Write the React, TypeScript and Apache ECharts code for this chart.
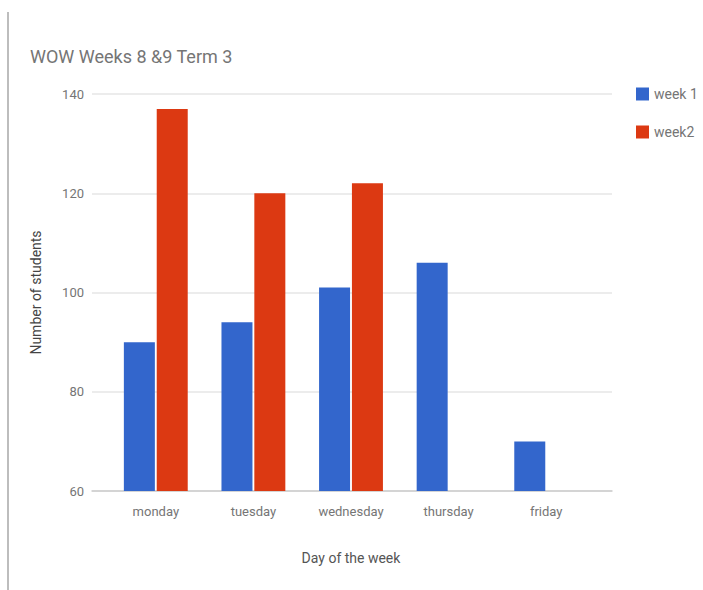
import React, { useEffect, useRef } from "react";
import * as echarts from "echarts";

const days = ["monday", "tuesday", "wednesday", "thursday", "friday"];
const week1 = [90, 94, 101, 106, 70];
const week2: (number | null)[] = [137, 120, 122, null, null];
const yMin = 60;
const yMax = 140;
const yStep = 20;

export default function App() {
  const ref = useRef<HTMLDivElement>(null);
  useEffect(() => {
    if (!ref.current) return;
    const chart = echarts.init(ref.current, undefined, { renderer: "svg" });
    const font = "Roboto, Arial, sans-serif";
    chart.setOption({
      animation: false,
      backgroundColor: "#ffffff",
      textStyle: { fontFamily: font },
      title: {
        text: "WOW Weeks 8 &9 Term 3",
        left: 25,
        top: 42,
        textStyle: { fontSize: 18, fontWeight: "normal", color: "#757575", fontFamily: font },
      },
      legend: {
        orient: "vertical",
        left: 631,
        top: 82,
        itemWidth: 13,
        itemHeight: 13,
        itemGap: 24,
        icon: "rect",
        textStyle: { fontSize: 14, color: "#757575", fontFamily: font },
        data: ["week 1", "week2"],
      },
      grid: [
        { left: 107, right: 108, top: 94, bottom: 99 },
        { left: 92, right: 91, top: 94, bottom: 99 },
      ],
      xAxis: [
        {
          type: "category",
          gridIndex: 0,
          data: days,
          axisLine: { show: false },
          axisTick: { show: false },
          axisLabel: { color: "#757575", fontSize: 13, margin: 14, fontFamily: font },
          name: "Day of the week",
          nameLocation: "middle",
          nameGap: 60,
          nameTextStyle: { color: "#555", fontSize: 14, fontFamily: font },
        },
        {
          type: "value",
          gridIndex: 1,
          axisLine: { show: true, onZero: false, lineStyle: { color: "#cccccc", width: 1.5 } },
          axisTick: { show: false },
          axisLabel: { show: false },
          splitLine: { show: false },
        },
      ],
      yAxis: [
        {
          type: "value",
          gridIndex: 0,
          min: yMin,
          max: yMax,
          interval: yStep,
          show: false,
          splitLine: { show: false },
        },
        {
          type: "value",
          gridIndex: 1,
          min: yMin,
          max: yMax,
          interval: yStep,
          axisLine: { show: false },
          axisTick: { show: false },
          axisLabel: { color: "#757575", fontSize: 13, margin: 8, fontFamily: font },
          splitLine: { lineStyle: { color: "#e6e6e6", width: 1.5 } },
          name: "Number of students",
          nameLocation: "middle",
          nameGap: 49,
          nameTextStyle: { color: "#444", fontSize: 14, fontFamily: font },
        },
      ],
      series: [
        {
          name: "week 1",
          type: "bar",
          xAxisIndex: 0,
          yAxisIndex: 0,
          data: week1,
          barWidth: 31,
          barGap: "6%",
          itemStyle: { color: "#3366cc" },
        },
        {
          name: "week2",
          type: "bar",
          xAxisIndex: 0,
          yAxisIndex: 0,
          data: week2,
          barWidth: 31,
          barGap: "6%",
          itemStyle: { color: "#dc3912" },
        },
      ],
      graphic: [
        {
          type: "line",
          shape: { x1: 8, y1: 12, x2: 8, y2: 590 },
          style: { stroke: "#bdbdbd", lineWidth: 2 },
        },
      ],
    });
    return () => chart.dispose();
  }, []);
  return (
    <div
      ref={ref}
      style={{ position: "fixed", left: 0, top: 0, width: 703, height: 590 }}
    />
  );
}
